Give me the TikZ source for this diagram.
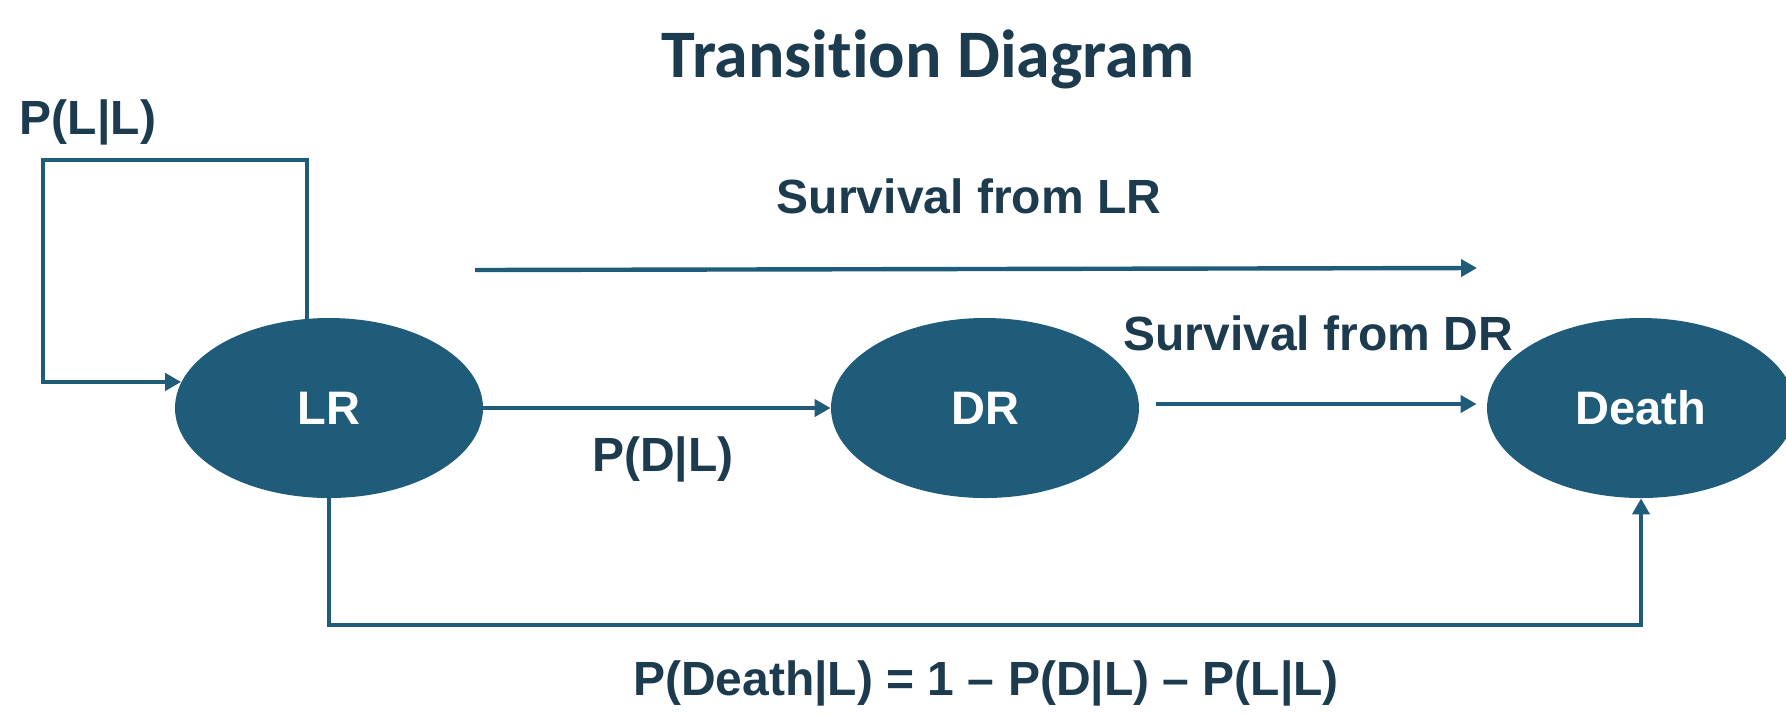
\documentclass[tikz,border=0pt]{standalone}
\usepackage{fontspec}
\setmainfont{Liberation Sans}
\newfontfamily\titlefont[Ligatures=NoCommon]{Carlito}
\usetikzlibrary{shapes.geometric,arrows.meta}
\definecolor{nodeblue}{HTML}{1F5C7A}
\definecolor{textdark}{HTML}{1D3B4E}
\tikzset{
  statenode/.style={ellipse, fill=nodeblue, draw=none, minimum width=154pt, minimum height=90pt, inner sep=0pt, text=white, font=\bfseries\fontsize{23.5}{27}\selectfont},
  lbl/.style={text=textdark, font=\bfseries\fontsize{24}{28}\selectfont, inner sep=0pt},
  conn/.style={draw=nodeblue, line width=2.2pt, line join=miter, -{Triangle[length=8pt,width=8.5pt]}},
}
\begin{document}
\begin{tikzpicture}[x=0.5pt,y=-0.5pt]
\useasboundingbox (0,0) rectangle (1786,714);
% title
\node[text=textdark, font=\titlefont\bfseries\fontsize{34}{40}\selectfont, inner sep=0pt] (title) at (928,59) {Transition Diagram};
% states
\node[statenode] (LR) at (329,408) {LR};
\node[statenode] (DR) at (985,408) {DR};
\node[statenode] (Death) at (1641,408) {Death};
% labels
\node[lbl] (pll) at (88,122) {P(L|L)};
\node[lbl] (survLR) at (969,196) {Survival from LR};
\node[lbl] (survDR) at (1318,333) {Survival from DR};
\node[lbl] (pdl) at (663,459) {P(D|L)};
\node[lbl] (pdeath) at (986,683) {P(Death|L) = 1 – P(D|L) – P(L|L)};
% coordinates
\coordinate (loopTL) at (43,160);
\coordinate (botY) at (0,625);
\coordinate (sLRa) at (475,270);
\coordinate (sLRb) at (1477,268);
% connectors
\draw[conn] (LR.104) |- (loopTL) |- (LR.170);
\draw[conn] (LR.east) -- (DR.west);
\draw[conn, shorten <=8.5pt, shorten >=5pt] ([yshift=2pt]DR.east) -- ([yshift=2pt]Death.west);
\draw[conn] (sLRa) -- (sLRb);
\draw[conn] (LR.south) |- (botY -| Death.south) -- (Death.south);
\end{tikzpicture}
\end{document}
